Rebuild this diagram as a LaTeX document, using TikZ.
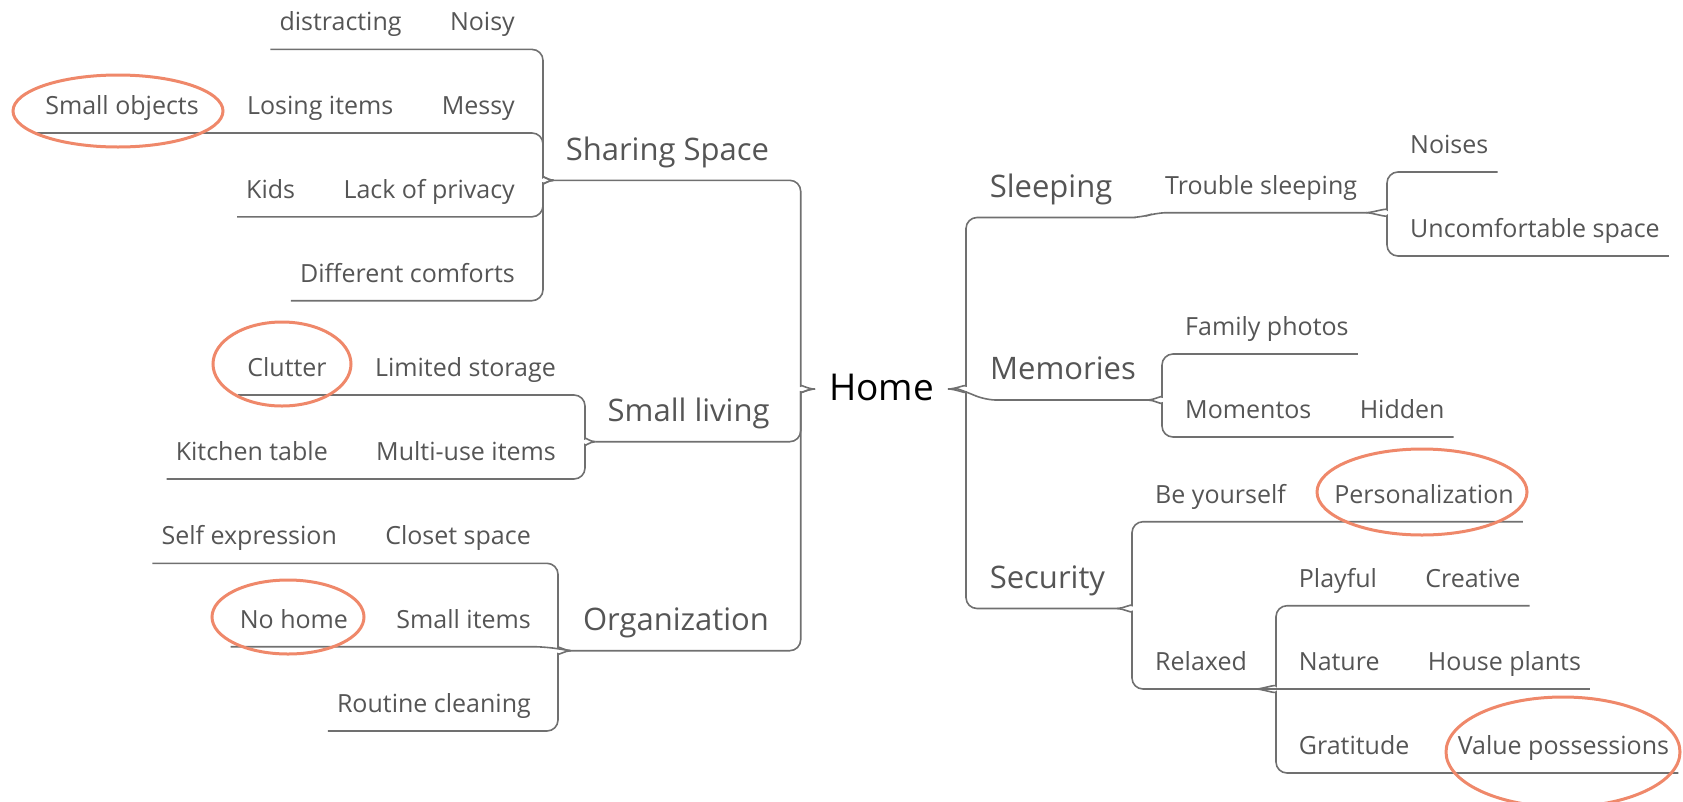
\documentclass[tikz,border=0pt]{standalone}
\usepackage{fontspec}
\setmainfont{Open Sans}
\usetikzlibrary{positioning}
\definecolor{inkgray}{RGB}{85,85,85}
\definecolor{linegray}{RGB}{112,112,112}
\definecolor{ringred}{RGB}{239,136,106}

\begin{document}
\begin{tikzpicture}[x=1pt, y=-1pt, node distance=30pt,
  leaf/.style={inner xsep=9pt, inner ysep=0pt, text height=18pt, text depth=18.5pt, text=inkgray, font=\fontsize{25}{30}\selectfont},
  topic/.style={inner xsep=12pt, inner ysep=0pt, text height=23pt, text depth=20pt, text=inkgray, font=\fontsize{31}{36}\selectfont},
  root/.style={inner sep=0pt, font=\fontsize{37}{44}\selectfont},
  link/.style={draw=linegray, line width=1.6pt, rounded corners=11pt},
  circled/.style={draw=ringred, line width=3pt}]
  \useasboundingbox (0,0) rectangle (1683,801);

  % centre and its two braces
  \node[root, anchor=base] (home) at (881.5,400) {Home};
  \coordinate (hl) at (815,389);
  \coordinate (hls) at (800.7,389);
  \coordinate (hr) at (948,389);
  \coordinate (hrs) at (966,389);

  % left topics
  \node[topic, anchor=south west] (share) at (553.6,180.3) {Sharing Space};
  \node[topic, anchor=south west] (small) at (595.5,441.7) {Small living};
  \node[topic, anchor=south west] (org) at (570.8,650.7) {Organization};
  \draw[link] (share.south west) -- (share.south east -| hls) -- ([yshift=14pt]hls) .. controls ([yshift=5pt]hls) and ([xshift=-8pt]hl) .. (hl);
  \draw[link] (small.south west) -- (small.south east -| hls) -- ([yshift=-14pt]hls) .. controls ([yshift=-5pt]hls) and ([xshift=-8pt]hl) .. (hl);
  \draw[link] (org.south west) -- (org.south east -| hls) -- ([yshift=-14pt]hls) .. controls ([yshift=-5pt]hls) and ([xshift=-8pt]hl) .. (hl);

  % Sharing Space
  \coordinate (ssp) at (543,180.3);
  \node[leaf, anchor=south east] (noisy) at (524,49.4) {Noisy};
  \node[leaf, left=of noisy] (distract) {distracting};
  \node[leaf, anchor=south east] (messy) at (524,133) {Messy};
  \node[leaf, left=of messy] (losing) {Losing items};
  \node[leaf, left=of losing] (smallobj) {Small objects};
  \node[leaf, anchor=south east] (privacy) at (524,216.8) {Lack of privacy};
  \node[leaf, left=of privacy] (kids) {Kids};
  \node[leaf, anchor=south east] (comforts) at (524,300.7) {Different comforts};
  \draw[link] (distract.south west) -- (noisy.south east -| ssp) -- ([yshift=14pt]ssp) .. controls ([yshift=5pt]ssp) and ([xshift=-6pt]share.south west) .. (share.south west);
  \draw[link] (smallobj.south west) -- (messy.south east -| ssp) -- ([yshift=14pt]ssp) .. controls ([yshift=5pt]ssp) and ([xshift=-6pt]share.south west) .. (share.south west);
  \draw[link] (kids.south west) -- (privacy.south east -| ssp) -- ([yshift=-14pt]ssp) .. controls ([yshift=-5pt]ssp) and ([xshift=-6pt]share.south west) .. (share.south west);
  \draw[link] (comforts.south west) -- (comforts.south east -| ssp) -- ([yshift=-14pt]ssp) .. controls ([yshift=-5pt]ssp) and ([xshift=-6pt]share.south west) .. (share.south west);

  % Small living
  \coordinate (lsp) at (585,441.7);
  \node[leaf, anchor=south east] (storage) at (565,395) {Limited storage};
  \node[leaf, left=of storage] (clutter) {Clutter};
  \node[leaf, anchor=south east] (multi) at (565,479) {Multi-use items};
  \node[leaf, left=of multi] (kitchen) {Kitchen table};
  \draw[link] (clutter.south west) -- (storage.south east -| lsp) -- ([yshift=14pt]lsp) .. controls ([yshift=5pt]lsp) and ([xshift=-6pt]small.south west) .. (small.south west);
  \draw[link] (kitchen.south west) -- (multi.south east -| lsp) -- ([yshift=-14pt]lsp) .. controls ([yshift=-5pt]lsp) and ([xshift=-6pt]small.south west) .. (small.south west);

  % Organization
  \coordinate (osp) at (558,650.7);
  \node[leaf, anchor=south east] (closet) at (540,563.3) {Closet space};
  \node[leaf, left=of closet] (selfexp) {Self expression};
  \node[leaf, anchor=south east] (smallitems) at (540,646.7) {Small items};
  \node[leaf, left=of smallitems] (nohome) {No home};
  \node[leaf, anchor=south east] (routine) at (540,731) {Routine cleaning};
  \draw[link] (selfexp.south west) -- (closet.south east -| osp) -- ([yshift=14pt]osp) .. controls ([yshift=5pt]osp) and ([xshift=-6pt]org.south west) .. (org.south west);
  \draw[link] (nohome.south west) -- ([xshift=4pt]smallitems.south east) -- (org.south west);
  \draw[link] (routine.south west) -- (routine.south east -| osp) -- ([yshift=-14pt]osp) .. controls ([yshift=-5pt]osp) and ([xshift=-6pt]org.south west) .. (org.south west);

  % right topics
  \node[topic, anchor=south west] (sleep) at (977.6,217.5) {Sleeping};
  \node[topic, anchor=south west] (memo) at (978,400) {Memories};
  \node[topic, anchor=south west] (secur) at (977.6,608.5) {Security};
  \node[leaf, anchor=south west] (trouble) at (1156,212.7) {Trouble sleeping};
  \draw[link] (hr) .. controls ([xshift=8pt]hr) and ([yshift=5pt]hrs) .. ([yshift=14pt]hrs) -- (hrs |- sleep.south) -- (sleep.south east) -- ++(17,0) -- (trouble.south west) -- (trouble.south east);
  \draw[link] (hr) .. controls +(10,0) .. +(19,3) -- +(37,11) -- (memo.south east);
  \draw[link] (hr) .. controls ([xshift=8pt]hr) and ([yshift=-5pt]hrs) .. ([yshift=-14pt]hrs) -- (hrs |- secur.south) -- (secur.south east);

  % Sleeping
  \coordinate (tsp) at (1387,212.7);
  \node[leaf, anchor=south west] (noises) at (1401,172) {Noises};
  \node[leaf, anchor=south west] (uncomf) at (1401,256) {Uncomfortable space};
  \draw[link] (trouble.south east) .. controls ([xshift=6pt]trouble.south east) and ([yshift=5pt]tsp) .. ([yshift=14pt]tsp) -- (tsp |- noises.south) -- (noises.south east);
  \draw[link] (trouble.south east) .. controls ([xshift=6pt]trouble.south east) and ([yshift=-5pt]tsp) .. ([yshift=-14pt]tsp) -- (tsp |- uncomf.south) -- (uncomf.south east);

  % Memories
  \coordinate (msp) at (1162,400);
  \node[leaf, anchor=south west] (photos) at (1176,354) {Family photos};
  \node[leaf, anchor=south west] (momentos) at (1176,437) {Momentos};
  \node[leaf, right=of momentos] (hidden) {Hidden};
  \draw[link] (memo.south east) .. controls ([xshift=6pt]memo.south east) and ([yshift=5pt]msp) .. ([yshift=14pt]msp) -- (msp |- photos.south) -- (photos.south east);
  \draw[link] (memo.south east) .. controls ([xshift=6pt]memo.south east) and ([yshift=-5pt]msp) .. ([yshift=-14pt]msp) -- (msp |- momentos.south) -- (hidden.south east);

  % Security
  \coordinate (csp) at (1132,608.5);
  \node[leaf, anchor=south west] (beyou) at (1146,521.7) {Be yourself};
  \node[leaf, right=of beyou] (personal) {Personalization};
  \node[leaf, anchor=south west] (relaxed) at (1146,689) {Relaxed};
  \draw[link] (secur.south east) .. controls ([xshift=6pt]secur.south east) and ([yshift=5pt]csp) .. ([yshift=14pt]csp) -- (csp |- beyou.south) -- (personal.south east);
  \draw[link] (secur.south east) .. controls ([xshift=6pt]secur.south east) and ([yshift=-5pt]csp) .. ([yshift=-14pt]csp) -- (csp |- relaxed.south) -- (relaxed.south east);

  % Relaxed
  \coordinate (rsp) at (1276,689);
  \node[leaf, anchor=south west] (playful) at (1289.7,605.7) {Playful};
  \node[leaf, right=of playful] (creative) {Creative};
  \node[leaf, anchor=south west] (nature) at (1289.7,689) {Nature};
  \node[leaf, right=of nature] (plants) {House plants};
  \node[leaf, anchor=south west] (gratitude) at (1289.7,773) {Gratitude};
  \node[leaf, right=of gratitude] (valuepos) {Value possessions};
  \draw[link] (relaxed.south east) .. controls ([xshift=6pt]relaxed.south east) and ([yshift=5pt]rsp) .. ([yshift=14pt]rsp) -- (rsp |- playful.south) -- (creative.south east);
  \draw[link] (relaxed.south east) -- (plants.south east);
  \draw[link] (relaxed.south east) .. controls ([xshift=6pt]relaxed.south east) and ([yshift=-5pt]rsp) .. ([yshift=-14pt]rsp) -- (rsp |- gratitude.south) -- (valuepos.south east);

  % rings round the key words
  \foreach \cx/\cy/\rx/\ry in {118/111/105/36, 282/364/69/42, 288/617/76/37, 1422/492/105/43, 1563/752/117/55}
    \draw[circled] (\cx,\cy) ellipse [x radius=\rx, y radius=\ry];
\end{tikzpicture}
\end{document}
